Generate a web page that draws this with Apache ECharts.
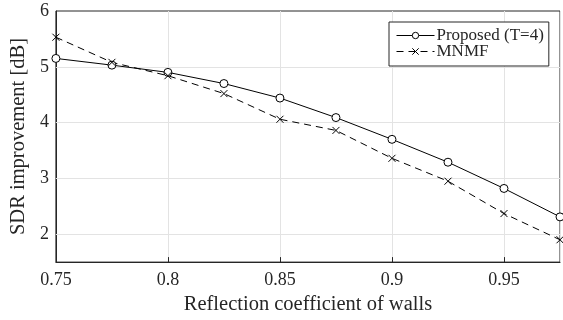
<!DOCTYPE html>
<html>
<head>
<meta charset="utf-8">
<script src="https://cdn.jsdelivr.net/npm/echarts@6/dist/echarts.min.js"></script>
<style>
  html, body { margin: 0; padding: 0; background: #fff; }
  #chart { width: 563px; height: 320px; }
</style>
</head>
<body>
<div id="chart"></div>
<script>
// Datos
const reflection = [0.75, 0.775, 0.8, 0.825, 0.85, 0.875, 0.9, 0.925, 0.95, 0.975];
const proposed = [5.15, 5.03, 4.9, 4.7, 4.44, 4.09, 3.7, 3.29, 2.82, 2.31];
const mnmf = [5.53, 5.08, 4.84, 4.52, 4.06, 3.86, 3.36, 2.95, 2.37, 1.9];
const yTicks = [2, 3, 4, 5];

const serif = "'Liberation Serif', 'DejaVu Serif', serif";
const ink = "#262626";
const gridColor = "#e3e3e3";

const chart = echarts.init(document.getElementById("chart"));

const crossSymbol = "path://M0,0L10,10M10,0L0,10";

chart.setOption({
  animation: false,
  grid: {
    left: 54, right: 3, top: 11, bottom: 57,
    show: true, borderColor: ink, borderWidth: 1,
  },
  legend: {
    left: 389, top: 22,
    orient: "vertical",
    itemWidth: 38, itemHeight: 8, itemGap: -1,
    padding: [5, 5, 6, 7],
    backgroundColor: "#fff",
    borderColor: ink, borderWidth: 1,
    borderRadius: 0,
    lineStyle: { width: 1 },
    itemStyle: { borderWidth: 1 },
    textStyle: { fontFamily: serif, fontSize: 17, color: ink, padding: [0, 0, 0, -3] },
    data: ["Proposed (T=4)", "MNMF"],
  },
  xAxis: {
    type: "value",
    min: 0.75, max: 0.975, interval: 0.05,
    name: "Reflection coefficient of walls",
    nameLocation: "middle",
    nameGap: 31,
    nameTextStyle: { fontFamily: serif, fontSize: 20.5, color: ink },
    axisLine: { show: true, lineStyle: { color: ink, width: 1 } },
    axisTick: { show: true, inside: true, length: 5, lineStyle: { color: ink } },
    axisLabel: {
      fontFamily: serif, fontSize: 18, color: ink, margin: 9,
      showMaxLabel: false,
      formatter: (v) => (Math.abs(v - 0.975) < 1e-6 ? "" : String(+v.toFixed(3))),
    },
    splitLine: { show: true, lineStyle: { color: gridColor, width: 1 } },
  },
  yAxis: {
    type: "value",
    min: 1.5, max: 6, interval: 0.5,
    name: "SDR improvement [dB]",
    nameLocation: "middle",
    nameGap: 21,
    nameTextStyle: { fontFamily: serif, fontSize: 20.5, color: ink },
    axisLine: { show: true, lineStyle: { color: ink, width: 1 } },
    axisTick: { show: false },
    axisLabel: {
      fontFamily: serif, fontSize: 18, color: ink, margin: 7,
      formatter: (v) => (Math.abs(v - Math.round(v)) < 1e-6 ? String(Math.round(v)) : ""),
    },
    splitLine: { show: false },
  },
  series: [
    {
      name: "Proposed (T=4)",
      type: "line",
      data: reflection.map((x, i) => [x, proposed[i]]),
      symbol: "circle",
      symbolSize: 8,
      showAllSymbol: true,
      lineStyle: { color: "#000", width: 1 },
      itemStyle: { color: "#fff", borderColor: "#000", borderWidth: 1 },
      z: 3,
      markLine: {
        silent: true,
        symbol: "none",
        label: { show: false },
        lineStyle: { color: gridColor, width: 1, type: "solid" },
        data: yTicks.map((t) => ({ yAxis: t })),
        z: 1,
      },
    },
    {
      name: "MNMF",
      type: "line",
      data: reflection.map((x, i) => [x, mnmf[i]]),
      symbol: crossSymbol,
      symbolSize: 7,
      showAllSymbol: true,
      lineStyle: { color: "#000", width: 1, type: [7, 5] },
      itemStyle: { color: "#000", borderColor: "#000", borderWidth: 1 },
      z: 3,
    },
  ],
});
</script>
</body>
</html>
